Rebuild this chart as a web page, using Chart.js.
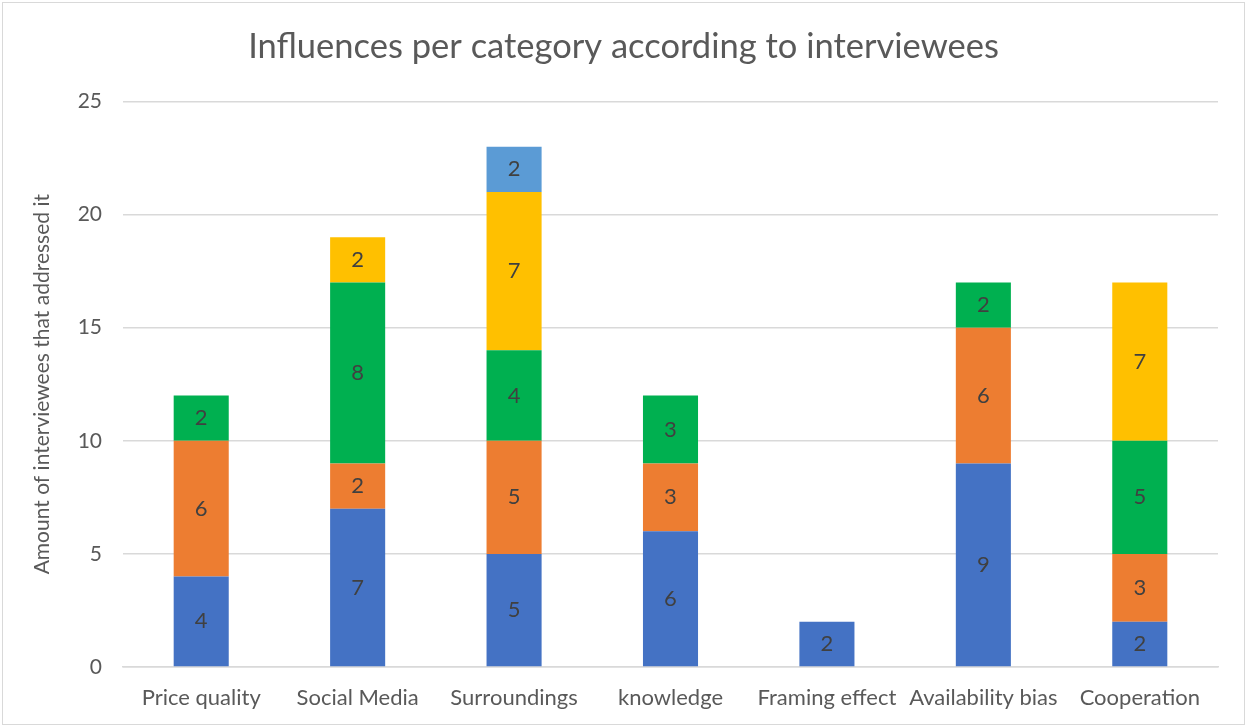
<!DOCTYPE html>
<html lang="en">
<head>
    <meta charset="UTF-8">
    <title>Influences per category according to interviewees</title>
    <script src="https://cdn.jsdelivr.net/npm/chart.js"></script>
    <style>
        body {
            margin: 0;
            padding: 0;
            background: #ffffff;
        }
        .chart-wrap {
            position: relative;
            width: 1247px;
            height: 727px;
        }
        .frame {
            position: absolute;
            left: 2px;
            top: 2px;
            right: 2px;
            bottom: 2px;
            border: 1.5px solid #d9d9d9;
            pointer-events: none;
        }
    </style>
</head>
<body>
    <div class="chart-wrap">
        <canvas id="influenceChart" width="1247" height="727"></canvas>
        <div class="frame"></div>
    </div>

    <script>
        const categories = ['Price quality', 'Social Media', 'Surroundings', 'knowledge', 'Framing effect', 'Availability bias', 'Cooperation'];

        // one array per stack level, bottom to top (null = no segment)
        const level1 = [4, 7, 5, 6, 2, 9, 2];
        const level2 = [6, 2, 5, 3, null, 6, 3];
        const level3 = [2, 8, 4, 3, null, 2, 5];
        const level4 = [null, 2, 7, null, null, null, 7];
        const level5 = [null, null, 2, null, null, null, null];

        const yTicks = [0, 5, 10, 15, 20, 25];

        const FONT = 'Lato, "Open Sans", sans-serif';

        // writes each segment's value in the middle of its bar
        const barValueLabels = {
            id: 'barValueLabels',
            afterDatasetsDraw(chart) {
                const ctx = chart.ctx;
                ctx.save();
                ctx.font = '22px ' + FONT;
                ctx.fillStyle = '#404040';
                ctx.textAlign = 'center';
                ctx.textBaseline = 'middle';
                chart.data.datasets.forEach((ds, i) => {
                    const meta = chart.getDatasetMeta(i);
                    meta.data.forEach((bar, j) => {
                        const v = ds.data[j];
                        if (v == null) return;
                        ctx.fillText(String(v), bar.x, (bar.y + bar.base) / 2);
                    });
                });
                ctx.restore();
            }
        };

        const ctx = document.getElementById('influenceChart').getContext('2d');
        const influenceChart = new Chart(ctx, {
            type: 'bar',
            data: {
                labels: categories,
                datasets: [
                    { label: 'Series1', data: level1, backgroundColor: '#4472C4' },
                    { label: 'Series2', data: level2, backgroundColor: '#ED7D31' },
                    { label: 'Series3', data: level3, backgroundColor: '#00B050' },
                    { label: 'Series4', data: level4, backgroundColor: '#FFC000' },
                    { label: 'Series5', data: level5, backgroundColor: '#5B9BD5' }
                ]
            },
            options: {
                responsive: false,
                animation: false,
                layout: {
                    padding: 0
                },
                datasets: {
                    bar: {
                        categoryPercentage: 1,
                        barPercentage: 0.352
                    }
                },
                plugins: {
                    legend: { display: false },
                    tooltip: { enabled: false },
                    title: {
                        display: true,
                        text: 'Influences per category according to interviewees',
                        color: '#595959',
                        font: { family: FONT, size: 34.5, weight: 'normal' },
                        padding: { top: 26, bottom: 34 }
                    }
                },
                scales: {
                    x: {
                        stacked: true,
                        grid: { display: false, drawTicks: false },
                        border: { display: true, color: '#d9d9d9', width: 1.5 },
                        ticks: {
                            color: '#595959',
                            font: { family: FONT, size: 22 },
                            padding: 18,
                            maxRotation: 0,
                            autoSkip: false
                        },
                        afterFit(scale) { scale.height = 60; }
                    },
                    y: {
                        stacked: true,
                        min: 0,
                        max: 25,
                        afterBuildTicks(scale) {
                            scale.ticks = yTicks.map(v => ({ value: v }));
                        },
                        grid: { color: '#d9d9d9', lineWidth: 1.5, drawTicks: false },
                        border: { display: false },
                        ticks: {
                            color: '#595959',
                            font: { family: FONT, size: 21 },
                            padding: 21
                        },
                        title: {
                            display: true,
                            text: 'Amount of interviewees that addressed it',
                            color: '#595959',
                            font: { family: FONT, size: 21 },
                            padding: { top: 30, bottom: 0 }
                        },
                        afterFit(scale) { scale.width = 123; }
                    },
                    // empty right-hand margin so the title stays centred on the page
                    rightGap: {
                        position: 'right',
                        grid: { display: false, drawTicks: false },
                        border: { display: false },
                        ticks: { display: false },
                        afterFit(scale) { scale.width = 29; }
                    }
                }
            },
            plugins: [barValueLabels]
        });
    </script>
</body>
</html>
